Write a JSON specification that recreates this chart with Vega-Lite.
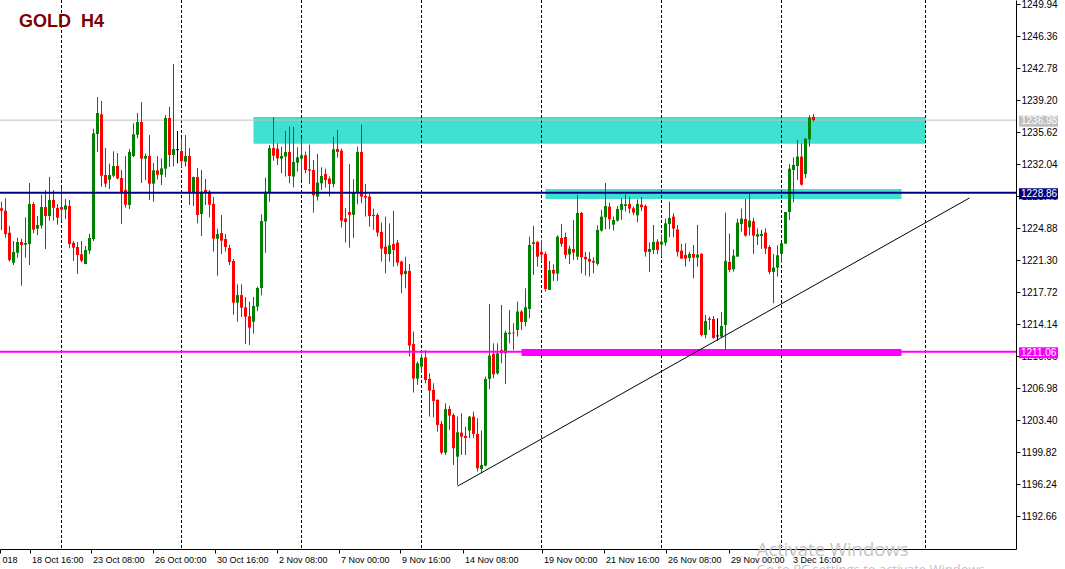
{
"$schema":"https://vega.github.io/schema/vega-lite/v6.json",
"width":1016,"height":549,
"autosize":{"type":"none"},
"padding":{"left":0,"top":0,"right":49,"bottom":20},
"background":"white",
"config":{"view":{"stroke":null},"font":"Liberation Sans"},
"title":{"text":"GOLD \u00a0H4","anchor":"start","frame":"group","orient":"top","offset":-46,"dx":19,"fontSize":18,"fontWeight":"bold","color":"#800000","font":"Liberation Sans","baseline":"alphabetic"},
"datasets":{
"grid":[{"b":15},{"b":45},{"b":75},{"b":105},{"b":135},{"b":165},{"b":195},{"b":231}],
"zones":[{"name":"top","b1":63,"b2":231,"p1":1237.33,"p2":1234.34},{"name":"mid","b1":136,"b2":225,"p1":1229.27,"p2":1228.15},{"name":"sup","b1":130,"b2":225,"p1":1211.36,"p2":1210.58}],
"levels":[{"name":"bid","p":1236.98},{"name":"res","p":1228.86},{"name":"sup","p":1211.06}],
"trend":[{"b1":114,"p1":1196.0,"b2":242,"p2":1228.27}],
"candles":[
{"i":0,"o":1227.11,"h":1227.85,"l":1224.68,"c":1226.84},
{"i":1,"o":1226.84,"h":1228.23,"l":1223.82,"c":1224.23},
{"i":2,"o":1224.38,"h":1225.13,"l":1221.14,"c":1221.32},
{"i":3,"o":1221.02,"h":1223.45,"l":1220.76,"c":1222.22},
{"i":4,"o":1222.14,"h":1223.82,"l":1221.58,"c":1223.34},
{"i":5,"o":1223.34,"h":1223.71,"l":1218.45,"c":1223.00},
{"i":6,"o":1223.04,"h":1226.10,"l":1221.58,"c":1223.23},
{"i":7,"o":1223.11,"h":1229.94,"l":1220.76,"c":1227.59},
{"i":8,"o":1227.59,"h":1227.81,"l":1224.31,"c":1224.72},
{"i":9,"o":1224.83,"h":1226.25,"l":1224.12,"c":1225.24},
{"i":10,"o":1225.17,"h":1228.64,"l":1224.83,"c":1227.26},
{"i":11,"o":1227.26,"h":1229.16,"l":1222.55,"c":1226.25},
{"i":12,"o":1226.25,"h":1230.61,"l":1225.73,"c":1228.04},
{"i":13,"o":1228.04,"h":1229.16,"l":1225.73,"c":1227.18},
{"i":14,"o":1227.14,"h":1227.59,"l":1225.28,"c":1226.06},
{"i":15,"o":1227.26,"h":1229.38,"l":1225.73,"c":1226.96},
{"i":16,"o":1226.96,"h":1228.15,"l":1225.91,"c":1227.44},
{"i":17,"o":1227.37,"h":1228.04,"l":1222.63,"c":1223.11},
{"i":18,"o":1223.23,"h":1223.45,"l":1221.21,"c":1222.70},
{"i":19,"o":1222.78,"h":1223.34,"l":1219.76,"c":1221.88},
{"i":20,"o":1221.96,"h":1223.45,"l":1221.06,"c":1221.25},
{"i":21,"o":1220.87,"h":1222.89,"l":1220.87,"c":1222.44},
{"i":22,"o":1222.37,"h":1224.27,"l":1221.99,"c":1223.79},
{"i":23,"o":1223.67,"h":1236.02,"l":1223.45,"c":1235.50},
{"i":24,"o":1235.43,"h":1239.57,"l":1233.41,"c":1237.78},
{"i":25,"o":1237.63,"h":1239.12,"l":1229.53,"c":1230.76},
{"i":26,"o":1230.84,"h":1233.86,"l":1229.46,"c":1229.87},
{"i":27,"o":1230.31,"h":1232.11,"l":1229.27,"c":1230.84},
{"i":28,"o":1230.76,"h":1233.49,"l":1230.58,"c":1231.84},
{"i":29,"o":1231.84,"h":1233.30,"l":1230.35,"c":1230.46},
{"i":30,"o":1230.50,"h":1231.40,"l":1225.35,"c":1228.93},
{"i":31,"o":1229.16,"h":1232.96,"l":1227.18,"c":1227.52},
{"i":32,"o":1227.48,"h":1233.75,"l":1227.03,"c":1233.41},
{"i":33,"o":1232.96,"h":1236.62,"l":1232.85,"c":1235.39},
{"i":34,"o":1235.35,"h":1237.78,"l":1234.94,"c":1236.77},
{"i":35,"o":1236.77,"h":1239.01,"l":1229.94,"c":1232.67},
{"i":36,"o":1232.67,"h":1233.23,"l":1230.28,"c":1232.96},
{"i":37,"o":1232.96,"h":1235.31,"l":1228.04,"c":1229.87},
{"i":38,"o":1229.87,"h":1232.18,"l":1227.85,"c":1231.36},
{"i":39,"o":1231.36,"h":1232.96,"l":1230.35,"c":1230.87},
{"i":40,"o":1230.87,"h":1232.67,"l":1229.72,"c":1231.58},
{"i":41,"o":1231.55,"h":1237.55,"l":1230.61,"c":1237.22},
{"i":42,"o":1237.22,"h":1238.49,"l":1231.73,"c":1233.08},
{"i":43,"o":1233.08,"h":1243.26,"l":1231.81,"c":1233.75},
{"i":44,"o":1233.67,"h":1235.76,"l":1232.14,"c":1233.67},
{"i":45,"o":1233.52,"h":1234.98,"l":1231.66,"c":1232.40},
{"i":46,"o":1232.33,"h":1235.31,"l":1231.77,"c":1232.96},
{"i":47,"o":1232.96,"h":1233.86,"l":1227.48,"c":1228.93},
{"i":48,"o":1228.93,"h":1230.65,"l":1227.37,"c":1230.61},
{"i":49,"o":1230.61,"h":1231.62,"l":1225.43,"c":1226.36},
{"i":50,"o":1226.47,"h":1231.40,"l":1224.01,"c":1228.97},
{"i":51,"o":1229.16,"h":1230.39,"l":1227.48,"c":1228.90},
{"i":52,"o":1228.97,"h":1229.16,"l":1226.10,"c":1227.52},
{"i":53,"o":1227.59,"h":1228.37,"l":1222.26,"c":1223.71},
{"i":54,"o":1223.71,"h":1224.83,"l":1219.57,"c":1224.23},
{"i":55,"o":1224.34,"h":1226.36,"l":1221.99,"c":1223.49},
{"i":56,"o":1223.67,"h":1224.23,"l":1222.26,"c":1222.78},
{"i":57,"o":1222.67,"h":1223.04,"l":1220.76,"c":1221.10},
{"i":58,"o":1221.21,"h":1221.43,"l":1215.20,"c":1216.55},
{"i":59,"o":1216.55,"h":1218.60,"l":1214.42,"c":1217.40},
{"i":60,"o":1217.40,"h":1218.60,"l":1214.94,"c":1215.99},
{"i":61,"o":1216.02,"h":1217.18,"l":1211.92,"c":1214.98},
{"i":62,"o":1215.02,"h":1216.66,"l":1211.81,"c":1213.75},
{"i":63,"o":1214.42,"h":1217.18,"l":1213.08,"c":1216.17},
{"i":64,"o":1216.10,"h":1218.34,"l":1215.61,"c":1218.19},
{"i":65,"o":1218.19,"h":1226.43,"l":1217.37,"c":1225.69},
{"i":66,"o":1225.65,"h":1230.54,"l":1222.14,"c":1228.97},
{"i":67,"o":1228.90,"h":1234.20,"l":1227.85,"c":1233.86},
{"i":68,"o":1233.86,"h":1237.29,"l":1232.44,"c":1233.00},
{"i":69,"o":1233.79,"h":1234.39,"l":1231.96,"c":1232.71},
{"i":70,"o":1232.67,"h":1234.02,"l":1231.03,"c":1232.97},
{"i":71,"o":1232.90,"h":1235.77,"l":1230.66,"c":1233.42},
{"i":72,"o":1233.42,"h":1236.25,"l":1229.91,"c":1230.73},
{"i":73,"o":1230.66,"h":1236.25,"l":1229.46,"c":1232.30},
{"i":74,"o":1232.22,"h":1233.94,"l":1231.22,"c":1232.82},
{"i":75,"o":1232.67,"h":1234.99,"l":1230.28,"c":1233.05},
{"i":76,"o":1233.05,"h":1233.46,"l":1231.03,"c":1231.40},
{"i":77,"o":1231.48,"h":1234.24,"l":1229.84,"c":1231.33},
{"i":78,"o":1231.40,"h":1232.52,"l":1226.63,"c":1228.57},
{"i":79,"o":1228.42,"h":1233.19,"l":1227.97,"c":1229.99},
{"i":80,"o":1229.91,"h":1231.70,"l":1229.16,"c":1230.73},
{"i":81,"o":1230.96,"h":1231.55,"l":1229.43,"c":1230.28},
{"i":82,"o":1230.43,"h":1230.66,"l":1228.42,"c":1229.84},
{"i":83,"o":1229.84,"h":1235.13,"l":1229.46,"c":1233.72},
{"i":84,"o":1233.75,"h":1235.88,"l":1232.78,"c":1233.42},
{"i":85,"o":1233.57,"h":1233.79,"l":1224.95,"c":1225.73},
{"i":86,"o":1225.96,"h":1227.15,"l":1223.27,"c":1225.58},
{"i":87,"o":1226.70,"h":1232.08,"l":1222.71,"c":1226.37},
{"i":88,"o":1226.37,"h":1230.36,"l":1223.79,"c":1228.94},
{"i":89,"o":1228.94,"h":1234.02,"l":1227.56,"c":1233.42},
{"i":90,"o":1233.42,"h":1236.48,"l":1227.67,"c":1228.42},
{"i":91,"o":1228.49,"h":1229.84,"l":1226.18,"c":1228.31},
{"i":92,"o":1228.42,"h":1228.72,"l":1225.06,"c":1226.25},
{"i":93,"o":1226.25,"h":1227.08,"l":1224.69,"c":1226.37},
{"i":94,"o":1226.37,"h":1226.55,"l":1223.94,"c":1224.39},
{"i":95,"o":1224.46,"h":1225.51,"l":1221.14,"c":1222.60},
{"i":96,"o":1222.82,"h":1226.18,"l":1219.84,"c":1222.00},
{"i":97,"o":1222.00,"h":1225.43,"l":1221.14,"c":1222.97},
{"i":98,"o":1223.12,"h":1226.85,"l":1220.58,"c":1222.45},
{"i":99,"o":1223.27,"h":1223.57,"l":1220.66,"c":1221.03},
{"i":100,"o":1221.14,"h":1221.25,"l":1217.60,"c":1219.69},
{"i":101,"o":1219.76,"h":1221.70,"l":1218.16,"c":1220.10},
{"i":102,"o":1220.10,"h":1220.88,"l":1210.51,"c":1211.74},
{"i":103,"o":1211.93,"h":1213.31,"l":1206.48,"c":1208.05},
{"i":104,"o":1208.05,"h":1209.95,"l":1207.34,"c":1209.76},
{"i":105,"o":1209.39,"h":1210.77,"l":1208.64,"c":1210.40},
{"i":106,"o":1210.40,"h":1211.25,"l":1207.52,"c":1207.90},
{"i":107,"o":1208.01,"h":1208.64,"l":1203.79,"c":1206.70},
{"i":108,"o":1206.78,"h":1207.52,"l":1203.72,"c":1205.55},
{"i":109,"o":1205.66,"h":1205.73,"l":1202.11,"c":1202.86},
{"i":110,"o":1202.97,"h":1203.30,"l":1199.58,"c":1199.76},
{"i":111,"o":1199.76,"h":1205.28,"l":1199.50,"c":1204.65},
{"i":112,"o":1204.65,"h":1205.02,"l":1202.30,"c":1203.90},
{"i":113,"o":1203.98,"h":1204.17,"l":1198.38,"c":1200.25},
{"i":114,"o":1199.31,"h":1203.79,"l":1196.14,"c":1202.04},
{"i":115,"o":1202.00,"h":1204.17,"l":1199.50,"c":1201.55},
{"i":116,"o":1201.63,"h":1202.67,"l":1199.50,"c":1201.40},
{"i":117,"o":1202.23,"h":1203.87,"l":1201.37,"c":1203.79},
{"i":118,"o":1203.79,"h":1204.35,"l":1201.37,"c":1201.85},
{"i":119,"o":1201.85,"h":1203.61,"l":1197.64,"c":1198.01},
{"i":120,"o":1197.93,"h":1202.23,"l":1197.45,"c":1198.38},
{"i":121,"o":1198.30,"h":1208.27,"l":1198.20,"c":1208.01},
{"i":122,"o":1208.01,"h":1216.40,"l":1206.85,"c":1210.62},
{"i":123,"o":1210.81,"h":1212.00,"l":1208.08,"c":1208.53},
{"i":124,"o":1208.64,"h":1212.00,"l":1208.46,"c":1210.88},
{"i":125,"o":1211.25,"h":1216.29,"l":1209.76,"c":1210.88},
{"i":126,"o":1210.88,"h":1213.42,"l":1207.45,"c":1213.19},
{"i":127,"o":1213.05,"h":1215.73,"l":1212.00,"c":1213.19},
{"i":128,"o":1213.19,"h":1214.24,"l":1211.25,"c":1213.12},
{"i":129,"o":1213.49,"h":1216.67,"l":1212.75,"c":1215.55},
{"i":130,"o":1215.55,"h":1215.73,"l":1213.49,"c":1214.39},
{"i":131,"o":1214.39,"h":1218.16,"l":1213.87,"c":1216.03},
{"i":132,"o":1215.84,"h":1223.94,"l":1214.80,"c":1223.01},
{"i":133,"o":1223.12,"h":1225.14,"l":1219.65,"c":1223.31},
{"i":134,"o":1223.34,"h":1223.46,"l":1220.58,"c":1221.70},
{"i":135,"o":1222.22,"h":1223.57,"l":1221.14,"c":1221.93},
{"i":136,"o":1222.00,"h":1222.26,"l":1217.78,"c":1218.08},
{"i":137,"o":1217.97,"h":1221.22,"l":1217.97,"c":1220.21},
{"i":138,"o":1220.21,"h":1220.84,"l":1218.98,"c":1219.80},
{"i":139,"o":1219.80,"h":1224.09,"l":1218.98,"c":1223.94},
{"i":140,"o":1223.79,"h":1225.36,"l":1222.82,"c":1223.12},
{"i":141,"o":1223.90,"h":1224.39,"l":1221.44,"c":1221.89},
{"i":142,"o":1221.96,"h":1222.93,"l":1220.88,"c":1222.60},
{"i":143,"o":1222.56,"h":1225.81,"l":1221.33,"c":1222.15},
{"i":144,"o":1221.70,"h":1228.61,"l":1221.33,"c":1226.59},
{"i":145,"o":1226.59,"h":1226.70,"l":1219.84,"c":1221.63},
{"i":146,"o":1221.67,"h":1222.23,"l":1219.58,"c":1221.40},
{"i":147,"o":1221.44,"h":1222.23,"l":1219.46,"c":1221.14},
{"i":148,"o":1221.22,"h":1221.63,"l":1219.84,"c":1221.03},
{"i":149,"o":1220.88,"h":1225.21,"l":1220.70,"c":1224.69},
{"i":150,"o":1224.61,"h":1226.93,"l":1224.50,"c":1226.18},
{"i":151,"o":1226.11,"h":1229.95,"l":1224.76,"c":1227.37},
{"i":152,"o":1227.30,"h":1227.75,"l":1224.76,"c":1225.88},
{"i":153,"o":1225.28,"h":1226.18,"l":1224.61,"c":1225.81},
{"i":154,"o":1225.73,"h":1227.37,"l":1225.62,"c":1227.04},
{"i":155,"o":1226.93,"h":1228.23,"l":1225.81,"c":1227.60},
{"i":156,"o":1227.37,"h":1228.68,"l":1226.74,"c":1227.56},
{"i":157,"o":1227.60,"h":1228.42,"l":1226.55,"c":1227.08},
{"i":158,"o":1227.11,"h":1227.30,"l":1226.33,"c":1226.63},
{"i":159,"o":1226.33,"h":1228.12,"l":1225.55,"c":1227.60},
{"i":160,"o":1227.52,"h":1228.38,"l":1226.81,"c":1227.23},
{"i":161,"o":1227.37,"h":1227.52,"l":1221.70,"c":1222.23},
{"i":162,"o":1222.23,"h":1223.27,"l":1219.99,"c":1222.56},
{"i":163,"o":1222.45,"h":1225.25,"l":1222.00,"c":1223.34},
{"i":164,"o":1223.38,"h":1223.64,"l":1221.96,"c":1222.45},
{"i":165,"o":1223.05,"h":1224.20,"l":1221.70,"c":1223.38},
{"i":166,"o":1223.27,"h":1225.96,"l":1222.90,"c":1225.43},
{"i":167,"o":1225.36,"h":1227.86,"l":1223.87,"c":1226.03},
{"i":168,"o":1226.18,"h":1226.55,"l":1223.87,"c":1224.84},
{"i":169,"o":1224.73,"h":1225.25,"l":1221.70,"c":1222.23},
{"i":170,"o":1222.37,"h":1223.12,"l":1221.44,"c":1221.48},
{"i":171,"o":1221.89,"h":1223.20,"l":1220.58,"c":1221.48},
{"i":172,"o":1221.55,"h":1222.26,"l":1221.14,"c":1222.00},
{"i":173,"o":1222.00,"h":1223.01,"l":1219.28,"c":1221.59},
{"i":174,"o":1221.59,"h":1225.25,"l":1220.58,"c":1221.93},
{"i":175,"o":1222.00,"h":1222.08,"l":1212.75,"c":1212.93},
{"i":176,"o":1212.93,"h":1215.17,"l":1212.56,"c":1214.50},
{"i":177,"o":1214.76,"h":1214.99,"l":1213.49,"c":1214.61},
{"i":178,"o":1214.72,"h":1215.06,"l":1212.49,"c":1212.60},
{"i":179,"o":1212.82,"h":1214.80,"l":1212.30,"c":1212.82},
{"i":180,"o":1212.75,"h":1215.51,"l":1212.67,"c":1213.94},
{"i":181,"o":1214.05,"h":1226.63,"l":1211.26,"c":1221.22},
{"i":182,"o":1221.11,"h":1224.28,"l":1219.95,"c":1220.21},
{"i":183,"o":1220.29,"h":1222.52,"l":1220.02,"c":1221.81},
{"i":184,"o":1221.70,"h":1225.96,"l":1221.70,"c":1225.51},
{"i":185,"o":1225.36,"h":1227.08,"l":1224.50,"c":1225.96},
{"i":186,"o":1225.92,"h":1228.16,"l":1223.94,"c":1224.05},
{"i":187,"o":1224.99,"h":1228.72,"l":1224.05,"c":1225.73},
{"i":188,"o":1225.66,"h":1226.07,"l":1222.00,"c":1224.05},
{"i":189,"o":1223.94,"h":1224.87,"l":1223.01,"c":1224.20},
{"i":190,"o":1224.02,"h":1224.73,"l":1222.56,"c":1224.24},
{"i":191,"o":1224.39,"h":1224.87,"l":1222.00,"c":1222.60},
{"i":192,"o":1222.78,"h":1222.97,"l":1219.73,"c":1219.99},
{"i":193,"o":1219.99,"h":1222.00,"l":1216.48,"c":1220.47},
{"i":194,"o":1220.47,"h":1222.97,"l":1219.46,"c":1221.85},
{"i":195,"o":1222.00,"h":1223.27,"l":1220.99,"c":1223.20},
{"i":196,"o":1223.16,"h":1226.70,"l":1223.12,"c":1226.70},
{"i":197,"o":1226.70,"h":1232.08,"l":1225.81,"c":1231.55},
{"i":198,"o":1231.40,"h":1232.82,"l":1227.78,"c":1231.96},
{"i":199,"o":1231.85,"h":1234.76,"l":1230.28,"c":1232.90},
{"i":200,"o":1232.90,"h":1234.39,"l":1229.65,"c":1229.76},
{"i":201,"o":1230.96,"h":1234.91,"l":1230.47,"c":1234.91},
{"i":202,"o":1234.84,"h":1237.52,"l":1234.02,"c":1237.26},
{"i":203,"o":1237.35,"h":1237.67,"l":1236.81,"c":1236.98}
]},
"layer":[
{"data":{"name":"zones"},"mark":{"type":"rect"},
 "encoding":{
  "x":{"field":"b1","type":"quantitative","title":null,"scale":{"domain":[-0.375,253.625],"nice":false,"zero":false,"padding":0},
   "axis":{"orient":"bottom","title":null,"grid":false,"tickCount":40,
    "values":[-0.375,7,22.25,37.75,53.25,68.75,84.25,99.5,115.25,135,150.5,166,181.75,197.25],
    "labelExpr":"['018','18 Oct 16:00','23 Oct 08:00','26 Oct 00:00','30 Oct 16:00','2 Nov 08:00','7 Nov 00:00','9 Nov 16:00','14 Nov 08:00','19 Nov 00:00','21 Nov 16:00','26 Nov 08:00','29 Nov 00:00','3 Dec 16:00'][indexof([-0.375,7,22.25,37.75,53.25,68.75,84.25,99.5,115.25,135,150.5,166,181.75,197.25], datum.value)]",
    "labelAlign":"left","labelBaseline":"top","labelOffset":2,"labelPadding":2,"tickSize":4,"tickColor":"#000000","domainColor":"#000000","labelColor":"#000000","labelFont":"Liberation Sans","labelFontSize":9,"labelFlush":false,"labelOverlap":false,"labelBound":false}},
  "x2":{"field":"b2"},
  "y":{"field":"p1","type":"quantitative","title":null,"scale":{"domain":[1188.97,1250.43],"nice":false,"zero":false,"padding":0},
   "axis":{"orient":"right","title":null,"grid":false,"tickCount":40,
    "values":[1249.94,1246.36,1242.78,1239.20,1235.62,1232.04,1228.46,1224.88,1221.30,1217.72,1214.14,1210.56,1206.98,1203.40,1199.82,1196.24,1192.66],
    "format":".2f","tickSize":4,"labelPadding":1,"tickColor":"#000000","domainColor":"#000000","labelColor":"#000000","labelFont":"Liberation Sans","labelFontSize":10,"labelFlush":false,"labelOverlap":false,"labelBound":false}},
  "y2":{"field":"p2"},
  "color":{"condition":{"test":"datum.name === 'sup'","value":"#FF00FF"},"value":"#40E0D0"}}},
{"data":{"name":"grid"},"mark":{"type":"rule","strokeDash":[3,2],"color":"#000000","strokeWidth":1},
 "encoding":{"x":{"field":"b","type":"quantitative","title":null}}},
{"data":{"name":"levels"},"transform":[{"filter":"datum.name === 'bid'"}],"mark":{"type":"rule","color":"#C0C0C0","strokeWidth":1},
 "encoding":{"y":{"field":"p","type":"quantitative","title":null}}},
{"data":{"name":"candles"},"mark":{"type":"rule","strokeWidth":1},
 "encoding":{
  "x":{"field":"i","type":"quantitative","title":null},
  "y":{"field":"l","type":"quantitative","title":null},
  "y2":{"field":"h"},
  "color":{"condition":[{"test":"datum.c > datum.o","value":"#008000"},{"test":"datum.c < datum.o","value":"#FF0000"}],"value":"#000000"}}},
{"data":{"name":"candles"},"mark":{"type":"bar","size":3},
 "encoding":{
  "x":{"field":"i","type":"quantitative","title":null},
  "y":{"field":"o","type":"quantitative","title":null},
  "y2":{"field":"c"},
  "color":{"condition":[{"test":"datum.c > datum.o","value":"#008000"},{"test":"datum.c < datum.o","value":"#FF0000"}],"value":"#000000"}}},
{"data":{"name":"candles"},"transform":[{"filter":"datum.o === datum.c"}],"mark":{"type":"tick","orient":"horizontal","size":3,"thickness":1,"color":"#000000","opacity":1},
 "encoding":{
  "x":{"field":"i","type":"quantitative","title":null},
  "y":{"field":"o","type":"quantitative","title":null}}},
{"data":{"name":"levels"},"transform":[{"filter":"datum.name !== 'bid'"}],"mark":{"type":"rule","strokeWidth":2},
 "encoding":{"y":{"field":"p","type":"quantitative","title":null},
  "color":{"condition":{"test":"datum.name === 'sup'","value":"#FF00FF"},"value":"#000080"}}},
{"data":{"name":"trend"},"mark":{"type":"rule","color":"#000000","strokeWidth":1},
 "encoding":{
  "x":{"field":"b1","type":"quantitative","title":null},"x2":{"field":"b2"},
  "y":{"field":"p1","type":"quantitative","title":null},"y2":{"field":"p2"}}},
{"data":{"name":"levels"},"mark":{"type":"tick","orient":"horizontal","thickness":11,"size":39,"opacity":1,"clip":false,"yOffset":1},
 "encoding":{
  "x":{"datum":259.25,"type":"quantitative","title":null},
  "y":{"field":"p","type":"quantitative","title":null},
  "color":{"condition":[{"test":"datum.name === 'bid'","value":"#C0C0C0"},{"test":"datum.name === 'sup'","value":"#FF00FF"}],"value":"#000080"}}},
{"data":{"name":"levels"},"mark":{"type":"text","align":"left","baseline":"middle","fontSize":10,"font":"Liberation Sans","color":"#FFFFFF","clip":false,"yOffset":1},
 "encoding":{
  "x":{"datum":254.875,"type":"quantitative","title":null},
  "y":{"field":"p","type":"quantitative","title":null},
  "text":{"field":"p","type":"quantitative","format":".2f"}}},
{"data":{"values":[{"t":"Activate Windows"}]},"mark":{"type":"text","align":"left","baseline":"alphabetic","fontSize":18.5,"font":"Open Sans","color":"#C4C4C4","clip":false},
 "encoding":{
  "x":{"datum":188.8,"type":"quantitative","title":null},
  "y":{"datum":1188.24,"type":"quantitative","title":null},
  "text":{"field":"t"}}},
{"data":{"values":[{"t":"Go to PC settings to activate Windows."}]},"mark":{"type":"text","align":"left","baseline":"alphabetic","fontSize":13,"font":"Open Sans","color":"#C4C4C4","clip":false},
 "encoding":{
  "x":{"datum":188.8,"type":"quantitative","title":null},
  "y":{"datum":1186.17,"type":"quantitative","title":null},
  "text":{"field":"t"}}}
]
}
